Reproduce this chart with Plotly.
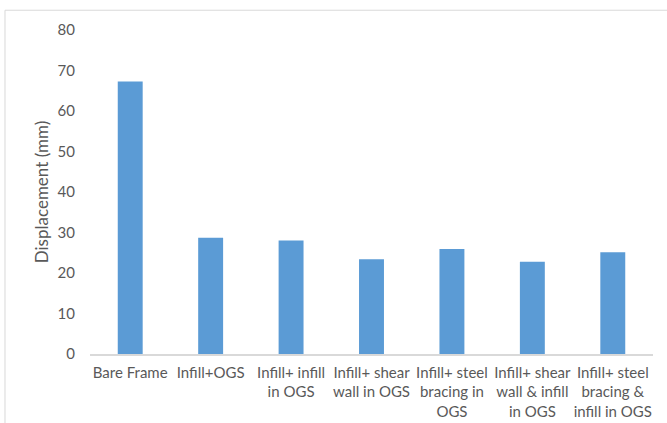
import plotly.graph_objects as go

categories = [
    "Bare Frame",
    "Infill+OGS",
    "Infill+ infill<br>in OGS",
    "Infill+ shear<br>wall in OGS",
    "Infill+ steel<br>bracing in<br>OGS",
    "Infill+ shear<br>wall & infill<br>in OGS",
    "Infill+ steel<br>bracing &<br>infill in OGS",
]
displacement_mm = [67.3, 28.7, 28.0, 23.4, 25.9, 22.8, 25.1]
y_ticks = [0, 10, 20, 30, 40, 50, 60, 70, 80]

text_grey = "#595959"
font_family = "Lato, Open Sans, sans-serif"

fig = go.Figure(
    go.Bar(
        x=categories,
        y=displacement_mm,
        marker=dict(color="#5B9BD5", line=dict(width=0)),
    )
)

fig.update_layout(
    width=667,
    height=423,
    margin=dict(l=90, r=14, t=30, b=69),
    paper_bgcolor="white",
    plot_bgcolor="white",
    bargap=0.69,
    showlegend=False,
    font=dict(family=font_family, size=15, color=text_grey),
    shapes=[
        dict(
            type="rect", xref="paper", yref="paper",
            x0=-0.151, x1=1.2, y0=-0.5, y1=1.061,
            line=dict(color="#D9D9D9", width=1),
            fillcolor="rgba(0,0,0,0)", layer="below",
        )
    ],
)

fig.update_xaxes(
    automargin=False,
    showgrid=False,
    showline=True,
    linecolor="#D9D9D9",
    linewidth=1.5,
    ticks="",
    ticklabelstandoff=4,
    tickfont=dict(size=15, color=text_grey),
    tickangle=0,
)

fig.update_yaxes(
    automargin=False,
    range=[0, 80],
    tickvals=y_ticks,
    showgrid=False,
    zeroline=False,
    showline=False,
    ticks="",
    ticklabelstandoff=14,
    tickfont=dict(size=15, color=text_grey),
    title=dict(text="Displacement (mm)", font=dict(size=17, color=text_grey), standoff=4),
)

fig.write_html("out.html")
